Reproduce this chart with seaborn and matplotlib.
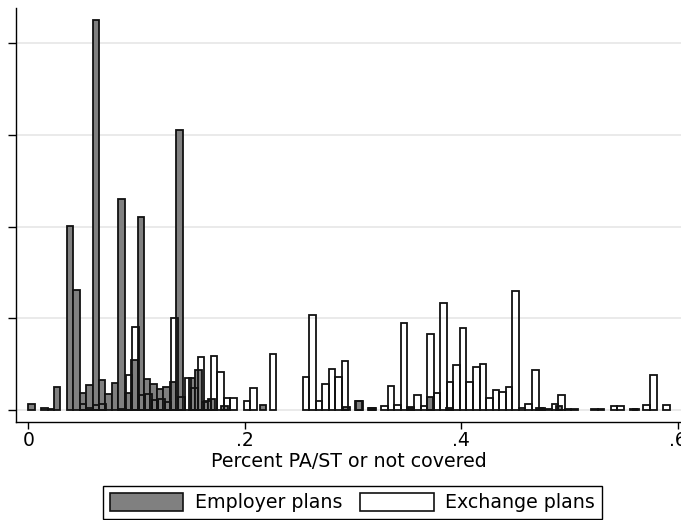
import matplotlib
matplotlib.use("Agg")
import matplotlib.pyplot as plt
from matplotlib.patches import Patch
import numpy as np
import pandas as pd
import seaborn as sns

# Stata picks its own bins for each group
emp_start, emp_width = 0.0, 0.00594
exc_start, exc_width = -0.001, 0.006055

# fraction of plans per bin
employer_share = [
    0.0031, 0, 0.0013, 0.0003, 0.0125, 0, 0.1005, 0.0655, 0.0090, 0.0135,
    0.2125, 0.0165, 0.0085, 0.0145, 0.1150, 0.0095, 0.0270, 0.1055, 0.0170, 0.0140,
    0.0115, 0.0125, 0.0155, 0.1525, 0, 0.0175, 0.0220, 0.0045, 0.0060, 0,
    0.0020, 0, 0, 0, 0, 0, 0.0025, 0, 0, 0,
    0, 0, 0, 0, 0, 0, 0, 0, 0, 0.0015,
    0, 0.0050, 0, 0.0010, 0, 0, 0, 0, 0, 0.0010,
    0, 0, 0.0072, 0, 0, 0.0010, 0, 0, 0, 0,
    0, 0, 0, 0, 0, 0, 0, 0, 0, 0.0010,
    0, 0, 0.0020, 0, 0, 0, 0, 0, 0, 0,
    0, 0, 0, 0, 0.0008,
]
exchange_share = [
    0, 0, 0, 0, 0, 0, 0, 0, 0.0035, 0.0010,
    0.0025, 0.0032, 0, 0, 0.0005, 0.0190, 0.0450, 0.0080, 0.0085, 0.0055,
    0.0060, 0.0045, 0.0500, 0.0072, 0.0175, 0.0120, 0.0290, 0.0050, 0.0295, 0.0205,
    0.0065, 0.0065, 0, 0.0050, 0.0120, 0, 0, 0.0305, 0, 0,
    0, 0, 0.0180, 0.0520, 0.0050, 0.0140, 0.0225, 0.0180, 0.0265, 0,
    0.0050, 0, 0.0010, 0, 0.0020, 0.0130, 0.0025, 0.0475, 0.0015, 0.0080,
    0.0020, 0.0415, 0.0090, 0.0585, 0.0155, 0.0245, 0.0445, 0.0150, 0.0235, 0.0250,
    0.0065, 0.0110, 0.0100, 0.0125, 0.0650, 0.0010, 0.0032, 0.0220, 0.0010, 0.0005,
    0.0032, 0.0080, 0.0005, 0.0005, 0, 0, 0.0008, 0.0008, 0, 0.0020,
    0.0020, 0, 0.0008, 0, 0.0025, 0.0193, 0, 0.0025,
]
x_ticks = [0, 0.2, 0.4, 0.6]
x_ticklabels = ["0", ".2", ".4", ".6"]
y_ticks = [0, 0.05, 0.10, 0.15, 0.20]
series_labels = ["Employer plans", "Exchange plans"]

plt.rcParams["font.family"] = ["DejaVu Sans"]


def bin_table(start, width, shares):
    edges = start + width * np.arange(len(shares) + 1)
    df = pd.DataFrame({"pct": edges[:-1] + width / 2, "share": shares})
    return df, list(edges)


fig = plt.figure(figsize=(6.81, 5.2), dpi=100)
ax = fig.add_axes([16 / 681, 98.5 / 520, 665 / 681, 413.5 / 520])

df_emp, emp_edges = bin_table(emp_start, emp_width, employer_share)
df_exc, exc_edges = bin_table(exc_start, exc_width, exchange_share)

sns.histplot(data=df_emp, x="pct", weights="share", bins=emp_edges, ax=ax,
             color="#808080", edgecolor="#111111", linewidth=1.3, alpha=1)
sns.histplot(data=df_exc, x="pct", weights="share", bins=exc_edges, ax=ax,
             fill=False, color="#111111", linewidth=1.3)

# Stata leaves empty bins out
for p in ax.patches:
    if p.get_height() <= 0:
        p.set_visible(False)

ax.set_xlim(-0.0113, 0.6028)
ax.set_ylim(-0.00627, 0.2192)
ax.set_yticks(y_ticks)
ax.tick_params(axis="y", labelleft=False, length=5.5, width=1, direction="out")
ax.set_xticks(x_ticks)
ax.set_xticklabels(x_ticklabels)
ax.tick_params(axis="x", length=5, width=1, direction="out", labelsize=13.5, pad=2)
ax.yaxis.grid(True, color="#e6e6e6", linewidth=1.2)
ax.set_axisbelow(True)
for side in ["top", "right"]:
    ax.spines[side].set_visible(False)
for side in ["left", "bottom"]:
    ax.spines[side].set_linewidth(1)
    ax.spines[side].set_color("black")
ax.set_ylabel("")
ax.set_xlabel("Percent PA/ST or not covered", fontsize=13.7, labelpad=1.3)

handles = [Patch(facecolor="#808080", edgecolor="#111111", linewidth=1.2),
           Patch(facecolor="white", edgecolor="#111111", linewidth=1.2)]
leg = fig.legend(handles, series_labels, loc="lower center", ncol=2,
                 bbox_to_anchor=(352.5 / 681, 1 / 520), fontsize=13.7,
                 frameon=True, fancybox=False, edgecolor="black", framealpha=1,
                 handlelength=3.84, handleheight=1.05, handletextpad=0.62,
                 columnspacing=0.96, borderpad=0.35, borderaxespad=0)
leg.get_frame().set_linewidth(1)

fig.savefig("out.png", dpi=100)
